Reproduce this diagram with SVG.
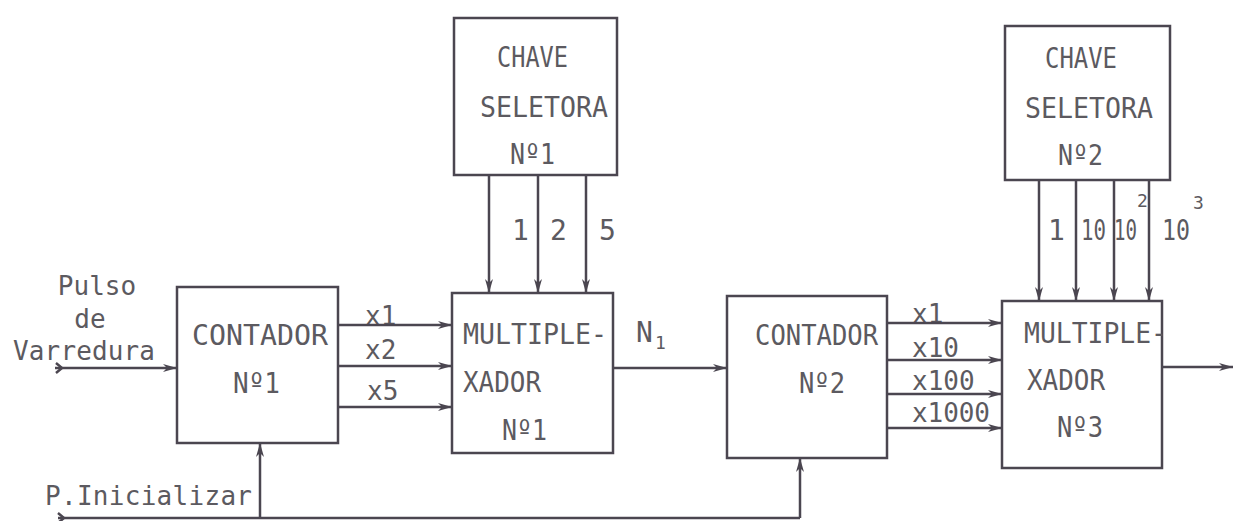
<svg xmlns="http://www.w3.org/2000/svg" width="1234" height="521" viewBox="0 0 1234 521">
<defs>
<marker id="ah" viewBox="0 0 14 8" refX="14" refY="4" markerWidth="14" markerHeight="8" markerUnits="userSpaceOnUse" orient="auto">
<path d="M0,0 L14,4 L0,8 L4,4 Z" fill="#4b4650"/>
</marker>
<style>
.box{fill:#fff;stroke:#4b4650;stroke-width:2.5}
.ln{fill:none;stroke:#4b4650;stroke-width:2.5}
.ar{fill:none;stroke:#4b4650;stroke-width:2.5;marker-end:url(#ah)}
text{font-family:"DejaVu Sans Mono","Liberation Mono",monospace;font-size:26px;fill:#5c5a60}
.bt{font-size:28px}
.sm{font-size:18px}
</style>
</defs>
<rect width="1234" height="521" fill="#fff"/>

<g id="chave1">
<rect class="box" x="454" y="18" width="163" height="157"/>
<text class="bt" x="497" y="67" textLength="71" lengthAdjust="spacingAndGlyphs">CHAVE</text>
<text class="bt" x="480" y="117" textLength="128" lengthAdjust="spacingAndGlyphs">SELETORA</text>
<text class="bt" x="510" y="164" textLength="45" lengthAdjust="spacingAndGlyphs">Nº1</text>
</g>

<g id="chave2">
<rect class="box" x="1005" y="26" width="165" height="154"/>
<text class="bt" x="1045" y="68" textLength="72" lengthAdjust="spacingAndGlyphs">CHAVE</text>
<text class="bt" x="1025" y="118" textLength="128" lengthAdjust="spacingAndGlyphs">SELETORA</text>
<text class="bt" x="1058" y="165" textLength="45" lengthAdjust="spacingAndGlyphs">Nº2</text>
</g>

<g id="contador1">
<rect class="box" x="177" y="287" width="161" height="156"/>
<text class="bt" x="192" y="345" textLength="136" lengthAdjust="spacingAndGlyphs">CONTADOR</text>
<text class="bt" x="233" y="393" textLength="47" lengthAdjust="spacingAndGlyphs">Nº1</text>
</g>

<g id="mux1">
<rect class="box" x="452" y="293" width="161" height="160"/>
<text class="bt" x="463" y="344" textLength="144" lengthAdjust="spacingAndGlyphs">MULTIPLE-</text>
<text class="bt" x="463" y="392" textLength="78" lengthAdjust="spacingAndGlyphs">XADOR</text>
<text class="bt" x="502" y="440" textLength="45" lengthAdjust="spacingAndGlyphs">Nº1</text>
</g>

<g id="contador2">
<rect class="box" x="727" y="296" width="160" height="162"/>
<text class="bt" x="755" y="345" textLength="123" lengthAdjust="spacingAndGlyphs">CONTADOR</text>
<text class="bt" x="799" y="393" textLength="46" lengthAdjust="spacingAndGlyphs">Nº2</text>
</g>

<g id="mux3">
<rect class="box" x="1002" y="301" width="160" height="167"/>
<text class="bt" x="1024" y="343" textLength="143" lengthAdjust="spacingAndGlyphs">MULTIPLE-</text>
<text class="bt" x="1027" y="390" textLength="78" lengthAdjust="spacingAndGlyphs">XADOR</text>
<text class="bt" x="1057" y="437" textLength="46" lengthAdjust="spacingAndGlyphs">Nº3</text>
</g>

<g id="labels">
<text x="97" y="295" text-anchor="middle">Pulso</text>
<text x="90" y="328" text-anchor="middle">de</text>
<text x="13" y="360" textLength="142">Varredura</text>
<text x="45" y="505" textLength="207">P.Inicializar</text>
<text class="bt" x="636" y="342">N</text><text class="sm" x="655" y="349">1</text>
<text class="bt" x="512" y="240">1</text>
<text class="bt" x="550" y="240">2</text>
<text class="bt" x="599" y="240">5</text>
<text class="bt" x="1048" y="240">1</text>
<text class="bt" x="1081" y="240" textLength="25" lengthAdjust="spacingAndGlyphs">10</text>
<text class="bt" x="1114" y="240" textLength="23" lengthAdjust="spacingAndGlyphs">10</text><text class="sm" x="1137" y="207">2</text>
<text class="bt" x="1162" y="240" textLength="28" lengthAdjust="spacingAndGlyphs">10</text><text class="sm" x="1193" y="209">3</text>
<text x="365" y="325">x1</text>
<text x="365" y="359">x2</text>
<text x="367" y="400">x5</text>
<text x="912" y="323">x1</text>
<text x="912" y="357">x10</text>
<text x="912" y="390">x100</text>
<text x="912" y="422" textLength="78">x1000</text>
</g>

<g id="connectors">
<path class="ar" d="M55,368 H177"/>
<path class="ln" d="M56,363 L62,368 L56,373"/>
<path class="ar" d="M338,325 H452"/>
<path class="ar" d="M338,366 H452"/>
<path class="ar" d="M338,407 H452"/>
<path class="ar" d="M489,175 V293"/>
<path class="ar" d="M538,175 V293"/>
<path class="ar" d="M586,175 V293"/>
<path class="ar" d="M613,368 H727"/>
<path class="ar" d="M887,323 H1002"/>
<path class="ar" d="M887,360 H1002"/>
<path class="ar" d="M887,394 H1002"/>
<path class="ar" d="M887,428 H1002"/>
<path class="ar" d="M1039,180 V301"/>
<path class="ar" d="M1076,180 V301"/>
<path class="ar" d="M1114,180 V301"/>
<path class="ar" d="M1149,180 V301"/>
<path class="ar" d="M1162,367 H1233"/>
<path class="ln" d="M58,518 H800"/>
<path class="ln" d="M58,513 L64,518 L58,523"/>
<path class="ar" d="M260,518 V443"/>
<path class="ar" d="M800,518 V458"/>
</g>
</svg>
